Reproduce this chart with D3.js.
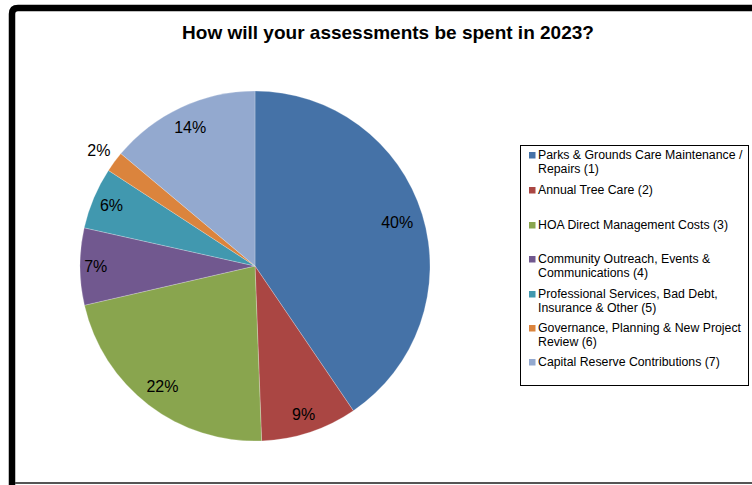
<!DOCTYPE html>
<meta charset="utf-8">
<head>
  <title>Assessments 2023 pie</title>
</head>
<style>
body { margin: 0; background: #fff; }
svg { display: block; font-family: "Liberation Sans", Arial, sans-serif; }
</style>
<body>
  <svg width="752" height="485"></svg>
  <script src="https://cdnjs.cloudflare.com/ajax/libs/d3/7.8.5/d3.min.js"></script>
  <script>

// categories, shares (%) and label text
var categories = [
  ["Parks & Grounds Care Maintenance /", "Repairs (1)"],
  ["Annual Tree Care (2)"],
  ["HOA Direct Management Costs (3)"],
  ["Community Outreach, Events &", "Communications (4)"],
  ["Professional Services, Bad Debt,", "Insurance & Other (5)"],
  ["Governance, Planning & New Project", "Review (6)"],
  ["Capital Reserve Contributions (7)"]
];
var shares = [40.5, 8.9, 22.0, 7.1, 5.7, 1.9, 13.9];
var labels = ["40%", "9%", "22%", "7%", "6%", "2%", "14%"];
var colors = ["#4572A7", "#AA4643", "#89A54E", "#71588F", "#4198AF", "#DB843D", "#93A9CF"];
// legend rows: vertical centre of each entry
var legendY = [162, 190, 225, 266, 301, 335, 362];

var svg = d3.select("svg");

// frame (thick black top/left, thin grey bottom)
svg.append("path")
  .attr("d", "M12,485 L12,14 Q12,8 18,8 L752,8")
  .attr("fill", "none")
  .attr("stroke", "#000")
  .attr("stroke-width", 6.5);
svg.append("line")
  .attr("x1", 15).attr("x2", 752).attr("y1", 483).attr("y2", 483)
  .attr("stroke", "#555").attr("stroke-width", 2);

svg.append("text")
  .attr("x", 388).attr("y", 39)
  .attr("text-anchor", "middle")
  .attr("font-weight", "bold")
  .attr("font-size", "19px")
  .text("How will your assessments be spent in 2023?");

var cx = 255, cy = 266, r = 175;
var pie = d3.pie().sort(null).value(d => d);
var arcs = pie(shares);
var arc = d3.arc().innerRadius(0).outerRadius(r);

var g = svg.append("g").attr("transform", "translate(" + cx + "," + cy + ")");
g.selectAll("path")
  .data(arcs)
  .enter()
  .append("path")
  .attr("d", arc)
  .attr("fill", (d, i) => colors[i])
  .attr("stroke", "#fff")
  .attr("stroke-width", 0.4)
  .attr("stroke-opacity", 0.6);

// label radius as fraction of r; the small slice sits outside
var labelR = [0.85, 0.89, 0.87, 0.91, 0.89, 1.11, 0.875];
g.selectAll("text")
  .data(arcs)
  .enter()
  .append("text")
  .attr("transform", (d, i) => {
    var a = (d.startAngle + d.endAngle) / 2;
    var rr = r * labelR[i];
    return "translate(" + (rr * Math.sin(a)) + "," + (-rr * Math.cos(a)) + ")";
  })
  .attr("text-anchor", "middle")
  .attr("dy", "0.35em")
  .attr("font-size", "16px")
  .attr("fill", "#000")
  .text((d, i) => labels[i]);

// legend
var leg = svg.append("g");
leg.append("rect")
  .attr("x", 520.5).attr("y", 145.5)
  .attr("width", 228).attr("height", 240)
  .attr("fill", "#fff")
  .attr("stroke", "#000")
  .attr("stroke-width", 1);

var item = leg.selectAll("g.item")
  .data(categories)
  .enter()
  .append("g")
  .attr("class", "item")
  .attr("transform", (d, i) => "translate(0," + legendY[i] + ")");

item.append("rect")
  .attr("x", 529).attr("y", (d) => d.length > 1 ? -10 : -3)
  .attr("width", 6.5).attr("height", 6.5)
  .attr("fill", (d, i) => colors[i]);

item.append("text")
  .attr("font-size", "12.3px")
  .attr("fill", "#000")
  .selectAll("tspan")
  .data(d => d)
  .enter()
  .append("tspan")
  .attr("x", 538)
  .attr("y", (d, j, nodes) => nodes.length > 1 ? (j === 0 ? -7 : 7) : 0)
  .attr("dy", "0.35em")
  .text(d => d);

  </script>
</body>
</html>
